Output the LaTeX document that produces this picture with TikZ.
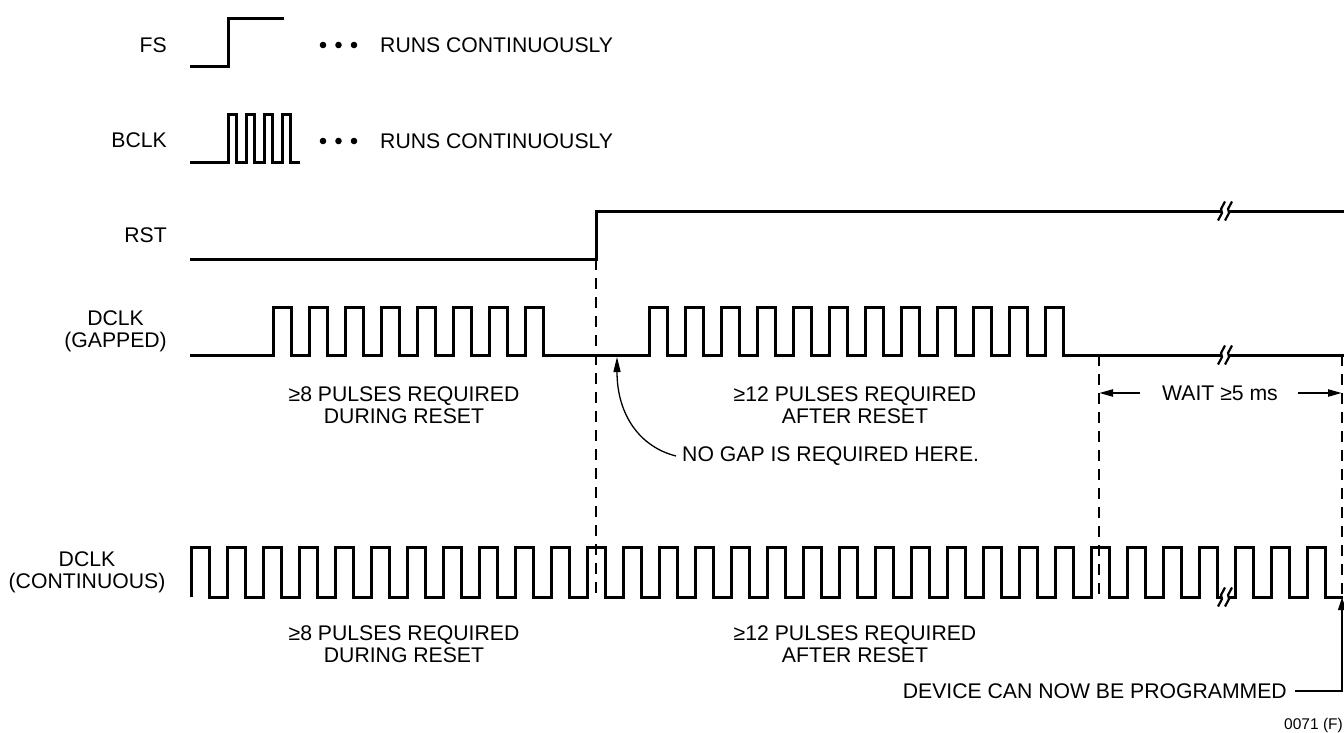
\documentclass[tikz,border=0pt]{standalone}
\usepackage{fontspec}
\setmainfont{Liberation Sans}
\usetikzlibrary{arrows.meta}
\begin{document}
\begin{tikzpicture}[x=1pt,y=-1pt,
  wave/.style={line width=3pt, line join=miter},
  dashline/.style={line width=2.4pt, dash pattern=on 11pt off 8pt},
  lbl/.style={inner sep=0pt, font=\fontsize{21.2}{22}\selectfont, align=center},
  arr/.style={line width=2.2pt, -{Triangle[length=14pt,width=7pt]}},
  brk/.style={line width=2.2pt},
  dotmark/.style={fill=black}]
\fill[white] (0,0) rectangle (1344,733);
\useasboundingbox (0,0) rectangle (1344,733);
\newcommand\brkmark[2]{%
  \fill[white] ({#1-3.5},{#2-2.5}) rectangle ({#1+3.5},{#2+2.5});
  \foreach \d in {-3.5,3.5}{\draw[brk] ({#1+\d+3.5},{#2-9.5}) -- ({#1+\d-0.5},{#2-2}) -- ({#1+\d+0.5},{#2+2}) -- ({#1+\d-3.5},{#2+9.5});}%
}
% labels
\node[lbl, anchor=east] (fsl) at (167,45) {FS};
\node[lbl, anchor=east] (bclkl) at (167,140) {BCLK};
\node[lbl, anchor=east] (rstl) at (167,235) {RST};
\node[lbl, anchor=east] (gapl) at (167,331) {DCLK\\(GAPPED)};
\node[lbl] (contl) at (87,572) {DCLK\\(CONTINUOUS)};
% FS / BCLK
\draw[wave] (190,67) -- (228,67) -- (228,19) -- (284,19);
\draw[wave] (190,163) -- (228,163) \foreach \k in {1,...,4} { -- ++(0,-48) -- ++(8,0) -- ++(0,48) -- ++(10,0) };
\foreach \y in {45,141}{
  \foreach \x in {323,338.5,354}{\fill[dotmark] (\x,\y) circle[radius=3.3pt];}
}
\node[lbl, anchor=west] (fsrun) at (380,45) {RUNS CONTINUOUSLY};
\node[lbl, anchor=west] (bclkrun) at (380,141) {RUNS CONTINUOUSLY};
% RST
\draw[wave] (190,259) -- (596,259) -- (596,211) -- (1344,211);
\brkmark{1225}{211}
% DCLK gapped
\draw[wave] (190,355) -- (273,355)
  \foreach \k in {1,...,8} { -- ++(0,-48) -- ++(18,0) -- ++(0,48) -- ++(18,0) }
  -- (649,355)
  \foreach \k in {1,...,12} { -- ++(0,-48) -- ++(18,0) -- ++(0,48) -- ++(18,0) }
  -- (1344,355);
\brkmark{1225}{355}
% DCLK continuous
\draw[wave] (191,597) \foreach \k in {1,...,32} { -- ++(0,-50) -- ++(18,0) -- ++(0,50) -- ++(18,0) };
\brkmark{1225}{597}
% dashed markers
\draw[dashline] (596,259) -- (596,598);
\draw[dashline] (1099,355) -- (1099,598);
\draw[dashline] (1342,355) -- (1342,598);
% text labels
\node[lbl] (p8a) at (404,405) {≥8 PULSES REQUIRED\\DURING RESET};
\node[lbl] (p12a) at (855,405) {≥12 PULSES REQUIRED\\AFTER RESET};
\node[lbl] (p8b) at (404,644) {≥8 PULSES REQUIRED\\DURING RESET};
\node[lbl] (p12b) at (855,644) {≥12 PULSES REQUIRED\\AFTER RESET};
% wait
\node[lbl] (wait) at (1220,393) {WAIT ≥5 ms};
\coordinate (waitl) at (1099,393);
\coordinate (waitr) at (1342,393);
\draw[arr] ([xshift=-22pt]wait.west) -- (waitl);
\draw[arr] ([xshift=20pt]wait.east) -- (waitr);
% no gap
\node[lbl, anchor=west] (nogap) at (682,456) {NO GAP IS REQUIRED HERE.};
\coordinate (nogaptip) at (617,357);
\draw[line width=1.3pt, -{Triangle[length=15pt,width=7pt]}] ([xshift=-6pt]nogap.west) .. controls (640,447) and (617,415) .. (nogaptip);
% device
\node[lbl, anchor=east] (dev) at (1287,691) {DEVICE CAN NOW BE PROGRAMMED};
\coordinate (devcorner) at (1342,691);
\coordinate (devtip) at (1342,597);
\draw[line width=2.2pt, -{Triangle[length=13pt,width=7.5pt]}] ([xshift=8pt]dev.east) -- (devcorner) -- (devtip);
% figure number
\node[inner sep=0pt, anchor=base east, font=\fontsize{15.5}{16}\selectfont] (fig) at (1343,729.5) {0071 (F)};
\end{tikzpicture}
\end{document}
